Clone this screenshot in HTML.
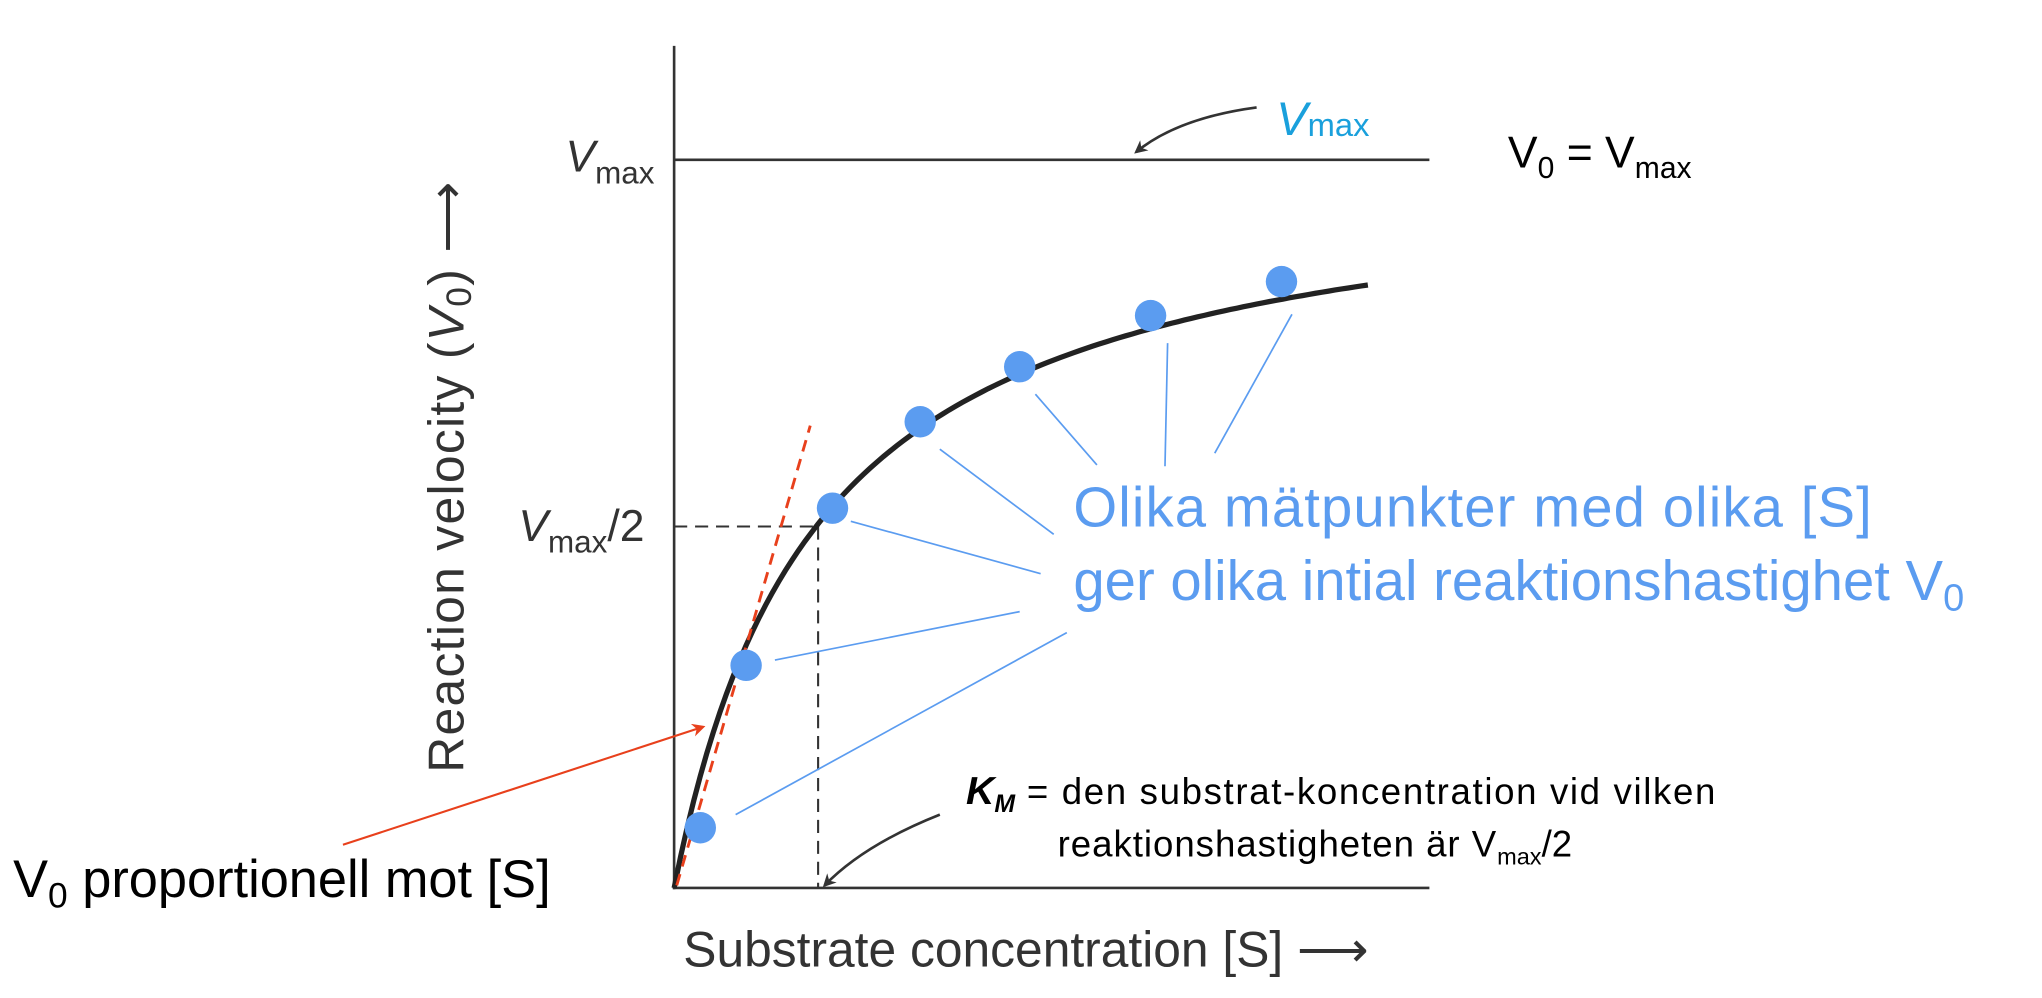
<!DOCTYPE html>
<html><head><meta charset="utf-8"><style>html,body{margin:0;padding:0;background:#fff}svg{display:block}</style></head>
<body>
<svg width="2042" height="998" viewBox="0 0 1560 762" preserveAspectRatio="none" xmlns="http://www.w3.org/2000/svg" font-family="Liberation Sans, sans-serif">
<defs>
<marker id="ab" markerWidth="10" markerHeight="10" refX="8" refY="5" orient="auto" markerUnits="userSpaceOnUse"><path d="M0,0 L10,5 L0,10 L3,5z" fill="#333"/></marker>
<marker id="ar" markerWidth="10" markerHeight="10" refX="8" refY="5" orient="auto" markerUnits="userSpaceOnUse"><path d="M0,0 L10,5 L0,10 L3,5z" fill="#e8401c"/></marker>
</defs>
<line x1="515" y1="35" x2="515" y2="679" stroke="#333" stroke-width="2"/>
<line x1="514" y1="678" x2="1092" y2="678" stroke="#333" stroke-width="2"/>
<line x1="515" y1="122" x2="1092" y2="122" stroke="#333" stroke-width="2"/>
<line x1="515" y1="402" x2="625" y2="402" stroke="#333" stroke-width="1.6" stroke-dasharray="10,6"/>
<line x1="625" y1="402" x2="625" y2="678" stroke="#333" stroke-width="1.6" stroke-dasharray="10,6"/>
<path id="c" fill="none" stroke="#222" stroke-width="4" d=""/>
<script>
(function(){var d="";for(var i=0;i<=530;i+=5){var v=556*i/(110+i);d+=(i?"L":"M")+(515+i)+","+(678-v).toFixed(1);}document.getElementById("c").setAttribute("d",d);})();
</script>
<line x1="517" y1="676" x2="619" y2="325" stroke="#e8401c" stroke-width="2.2" stroke-dasharray="9,6"/>
<g stroke="#5b9cf0" stroke-width="1.3">
<line x1="562" y1="622" x2="815" y2="483"/>
<line x1="592" y1="504" x2="779" y2="467"/>
<line x1="650" y1="398" x2="795" y2="438"/>
<line x1="718" y1="343" x2="805" y2="408"/>
<line x1="791" y1="301" x2="838" y2="355"/>
<line x1="892" y1="262" x2="890" y2="356"/>
<line x1="987" y1="240" x2="928" y2="346"/>
</g>
<g fill="#5b9cf0">
<circle cx="535" cy="632" r="12"/><circle cx="570" cy="508" r="12"/><circle cx="636" cy="388" r="12"/>
<circle cx="703" cy="322" r="12"/><circle cx="779" cy="280" r="12"/><circle cx="879" cy="241" r="12"/><circle cx="979" cy="215" r="12"/>
</g>
<path d="M960,82 Q900,90 868,116" fill="none" stroke="#333" stroke-width="2" marker-end="url(#ab)"/>
<path d="M718,622 Q660,645 630,676" fill="none" stroke="#333" stroke-width="2" marker-end="url(#ab)"/>
<line x1="262" y1="645" x2="537" y2="555" stroke="#e8401c" stroke-width="1.6" marker-end="url(#ar)"/>
<text x="432" y="131" font-size="34" font-style="italic" fill="#333">V<tspan font-style="normal" font-size="24" dy="9">max</tspan></text>
<text x="396" y="413" font-size="34" fill="#333"><tspan font-style="italic">V</tspan><tspan font-size="24" dy="9">max</tspan><tspan dy="-9">/2</tspan></text>
<text x="975" y="103" font-size="36" font-style="italic" fill="#1aa0dc">V<tspan font-style="normal" font-size="25" dy="1">max</tspan></text>
<text x="1152" y="128" font-size="34" fill="#000">V<tspan font-size="23" dy="8">0</tspan><tspan dy="-8"> = V</tspan><tspan font-size="23" dy="8">max</tspan></text>
<text x="820" y="402" font-size="43" fill="#5b9cf0" textLength="610">Olika mätpunkter med olika [S]</text>
<text x="820" y="458" font-size="43" fill="#5b9cf0">ger olika intial reaktionshastighet V<tspan font-size="29" dy="8">0</tspan></text>
<text x="738" y="614" font-size="28" fill="#000"><tspan font-weight="bold" font-style="italic" font-size="30">K</tspan><tspan font-weight="bold" font-style="italic" font-size="19" dy="6">M</tspan><tspan dy="-6" textLength="535"> = den substrat-koncentration vid vilken</tspan></text>
<text x="808" y="654" font-size="28" fill="#000"><tspan textLength="335">reaktionshastigheten är V</tspan><tspan font-size="18" dy="6">max</tspan><tspan dy="-6">/2</tspan></text>
<text x="10" y="685" font-size="40" fill="#000">V<tspan font-size="27" dy="8">0</tspan><tspan dy="-8"> proportionell mot [S]</tspan></text>
<text x="522" y="738" font-size="38" fill="#333">Substrate concentration [S] ⟶</text>
<text transform="translate(354,590) rotate(-90)" font-size="38" fill="#333" letter-spacing="1">Reaction velocity (<tspan font-style="italic">V</tspan><tspan font-size="27" dy="6">0</tspan><tspan dy="-6">) ⟶</tspan></text>
</svg>
</body></html>
